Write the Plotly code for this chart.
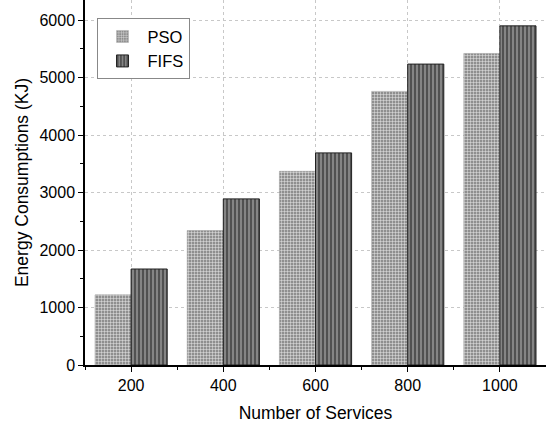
import plotly.graph_objects as go

services = [200, 400, 600, 800, 1000]
pso = [1220, 2340, 3370, 4760, 5420]
fifs = [1670, 2890, 3690, 5235, 5900]
y_ticks = [0, 1000, 2000, 3000, 4000, 5000, 6000]

fig = go.Figure()
fig.add_trace(go.Bar(
    x=services, y=pso, name="PSO", offsetgroup=0,
    marker=dict(color="#8f8f8f", line=dict(color="#9a9a9a", width=0.5),
                pattern=dict(shape="+", fgcolor="#e8e8e8", bgcolor="#8f8f8f",
                             size=3, solidity=0.3, fillmode="replace")),
))
fig.add_trace(go.Bar(
    x=services, y=fifs, name="FIFS", offsetgroup=1,
    marker=dict(color="#808080", line=dict(color="#222222", width=1),
                pattern=dict(shape="|", fgcolor="#3a3a3a", bgcolor="#858585",
                             size=4, solidity=0.35, fillmode="replace")),
))

font = "Liberation Sans, Arial, sans-serif"
fig.update_layout(
    width=546, height=425,
    margin=dict(l=85, r=0, t=0, b=60, autoexpand=False),
    plot_bgcolor="white", paper_bgcolor="white",
    barmode="group", bargap=0.217, bargroupgap=0,
    font=dict(family=font, color="black"),
    legend=dict(x=0.025, y=0.95, xanchor="left", yanchor="top",
                bordercolor="#888888", borderwidth=1, bgcolor="white",
                font=dict(size=16.5, family=font), tracegroupgap=0,
                itemwidth=40),
    showlegend=True,
)
fig.update_xaxes(
    range=[100, 1100], tickvals=services, ticktext=[str(s) for s in services],
    showline=True, linecolor="black", linewidth=1.5,
    ticks="outside", ticklen=5, tickwidth=1.2, tickcolor="black",
    minor=dict(tickvals=[100, 300, 500, 700, 900, 1100], ticks="outside", ticklen=3,
               tickcolor="black", tickwidth=1, showgrid=False),
    showgrid=True, gridcolor="#c8c8c8", griddash="3px,3px", gridwidth=1,
    tickfont=dict(size=16), title=dict(text="Number of Services", font=dict(size=17.5), standoff=14),
    zeroline=False, automargin=False,
)
fig.update_yaxes(
    range=[0, 6350], tickvals=y_ticks,
    showline=True, linecolor="black", linewidth=1.5,
    ticks="outside", ticklen=5, tickwidth=1.2, tickcolor="black",
    minor=dict(dtick=500, ticks="outside", ticklen=3, tickcolor="black",
               tickwidth=1, showgrid=False),
    showgrid=True, gridcolor="#c8c8c8", griddash="3px,3px", gridwidth=1,
    tickfont=dict(size=16), title=dict(text="Energy Consumptions (KJ)", font=dict(size=17.5), standoff=6),
    zeroline=False, automargin=False,
)
fig.write_html("out.html", config={"displayModeBar": False},
               post_script="document.body.style.margin='0';document.body.style.overflow='hidden';")
